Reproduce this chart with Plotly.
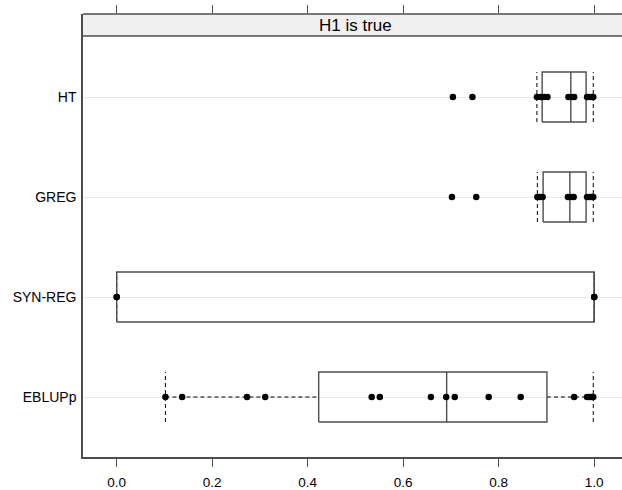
import plotly.graph_objects as go

# ---- data ----
methods = ["EBLUPp", "SYN-REG", "GREG", "HT"]          # bottom -> top
lower_whisker = [0.102, 0.0, 0.881, 0.880]
q1 = [0.423, 0.0, 0.893, 0.891]
median = [0.691, 1.0, 0.949, 0.951]
q3 = [0.901, 1.0, 0.983, 0.983]
upper_whisker = [0.998, 1.0, 0.998, 0.998]

points_EBLUPp = [0.102, 0.137, 0.273, 0.311, 0.534, 0.551, 0.658, 0.690, 0.708,
                 0.779, 0.846, 0.958, 0.985, 0.990, 0.995, 0.998]
points_SYNREG = [0.0, 0.0, 1.0, 1.0]
points_GREG = [0.702, 0.753, 0.881, 0.886, 0.892, 0.945, 0.951, 0.957,
               0.985, 0.990, 0.995, 0.998]
points_HT = [0.704, 0.745, 0.880, 0.888, 0.895, 0.902, 0.946, 0.952, 0.958,
             0.985, 0.990, 0.995, 0.998]
points = [points_EBLUPp, points_SYNREG, points_GREG, points_HT]

x_ticks = [0.0, 0.2, 0.4, 0.6, 0.8, 1.0]
x_tick_labels = ["0.0", "0.2", "0.4", "0.6", "0.8", "1.0"]
strip_title = "H1 is true"

# ---- build figure ----
FONT = "Liberation Sans, Arial, sans-serif"
BOXCOL = "#4d4d4d"
HALF = 0.25
pos = list(range(1, len(methods) + 1))
XRANGE = [-0.0706, -0.0706 + 539 / 477.5]

wx, wy, cx, cy, bx, by, mx, my = [], [], [], [], [], [], [], []
for i, p in enumerate(pos):
    wx += [lower_whisker[i], q1[i], None, q3[i], upper_whisker[i], None]
    wy += [p, p, None, p, p, None]
    cx += [lower_whisker[i], lower_whisker[i], None, upper_whisker[i], upper_whisker[i], None]
    cy += [p - HALF, p + HALF, None, p - HALF, p + HALF, None]
    bx += [q1[i], q3[i], q3[i], q1[i], q1[i], None]
    by += [p - HALF, p - HALF, p + HALF, p + HALF, p - HALF, None]
    mx += [median[i], median[i], None]
    my += [p - HALF, p + HALF, None]

fig = go.Figure()
fig.add_trace(go.Scatter(x=wx, y=wy, mode="lines", hoverinfo="skip",
                         line=dict(color="black", width=1, dash="4px,3px")))
fig.add_trace(go.Scatter(x=cx, y=cy, mode="lines", hoverinfo="skip",
                         line=dict(color="black", width=1, dash="4px,3px")))
fig.add_trace(go.Scatter(x=bx, y=by, mode="lines", hoverinfo="skip",
                         line=dict(color=BOXCOL, width=1.4)))
fig.add_trace(go.Scatter(x=mx, y=my, mode="lines", hoverinfo="skip",
                         line=dict(color=BOXCOL, width=1.4)))
px, py = [], []
for p, vals in zip(pos, points):
    px += vals
    py += [p] * len(vals)
fig.add_trace(go.Scatter(x=px, y=py, mode="markers",
                         marker=dict(color="black", size=6.5, line=dict(width=0))))
fig.add_trace(go.Scatter(x=[XRANGE[0]], y=[0.4], xaxis="x2", mode="markers",
                         marker=dict(opacity=0), hoverinfo="skip"))

strip_y0 = (457 - 36) / 443
fig.add_shape(type="rect", xref="paper", yref="paper", x0=0, x1=1.0,
              y0=strip_y0, y1=1.0, fillcolor="#f0f0f0",
              line=dict(width=0), layer="above")
for yy in (strip_y0, 1.0):
    fig.add_shape(type="line", xref="paper", yref="paper", x0=0, x1=1.0,
                  y0=yy, y1=yy, line=dict(color=BOXCOL, width=1.5), layer="above")
fig.add_annotation(xref="x", yref="paper", x=0.5, y=(strip_y0 + 1.0) / 2,
                   text=strip_title, showarrow=False,
                   font=dict(family=FONT, size=17, color="black"),
                   xanchor="center", yanchor="middle")

fig.update_layout(
    width=622, height=490,
    margin=dict(l=83, r=0, t=14, b=33),
    plot_bgcolor="white", paper_bgcolor="white",
    showlegend=False,
    font=dict(family=FONT, color="black"),
    xaxis=dict(range=XRANGE, tickvals=x_ticks, ticktext=x_tick_labels,
               ticks="outside", ticklen=8, tickwidth=1.2, tickcolor=BOXCOL,
               showline=True, linecolor=BOXCOL, linewidth=1.5, mirror=False,
               showgrid=False, zeroline=False, ticklabelstandoff=4,
               automargin=False,
               tickfont=dict(family=FONT, size=13.5, color="black")),
    xaxis2=dict(range=XRANGE, overlaying="x", side="top", anchor="y",
                tickvals=x_ticks, ticks="outside", ticklen=8, tickwidth=1.2,
                tickcolor=BOXCOL, showticklabels=False, showline=False,
                showgrid=False, zeroline=False, automargin=False),
    yaxis=dict(range=[0.4, 0.4 + 443 / 100.0], tickvals=pos, ticktext=methods,
               ticks="", ticklabelstandoff=2, mirror=False, automargin=False,
               showline=True, linecolor=BOXCOL, linewidth=1.5,
               showgrid=True, gridcolor="#e8e8e8", gridwidth=1, zeroline=False,
               tickfont=dict(family=FONT, size=14, color="black")),
)

fig.write_html("out.html")
